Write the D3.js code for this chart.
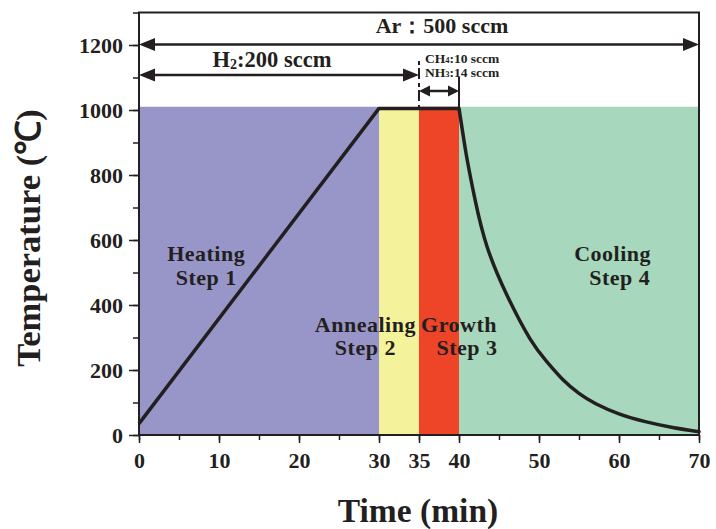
<!DOCTYPE html>
<html>
<head>
<meta charset="utf-8">
<script src="https://cdn.jsdelivr.net/npm/d3@7"></script>
<style>
  body { margin: 0; background: #fff; }
  text { font-family: "Liberation Serif", "Times New Roman", serif; font-weight: bold; fill: #231f20; }
</style>
</head>
<body>
<div id="chart"></div>
<script>
// steps of the process (minutes)
const stepNames = ["Heating", "Annealing", "Growth", "Cooling"];
const stepNumbers = ["Step 1", "Step 2", "Step 3", "Step 4"];
const stepStart = [0, 30, 35, 40];
const stepEnd = [30, 35, 40, 70];
const shadeTop = 1010;

// temperature profile
const heatTime = [0, 30, 40];
const heatTemp = [35, 1005, 1005];
const coolTime = [40, 40.5, 41, 42, 43.5, 46, 48.9, 51, 53, 55, 57.1, 60, 63.3, 66.7, 70];
const coolTemp = [1005, 925, 850, 725, 580, 430, 295, 225, 170, 128, 96, 65, 41, 23, 10];

// gas flows
const gasStart = [0, 0, 35];
const gasEnd = [70, 35, 40];

// ticks
const xTicks = d3.range(0, 71, 5);
const xLabels = [0, 10, 20, 30, 35, 40, 50, 60, 70];
const yTicks = d3.range(0, 1301, 100);
const yLabels = d3.range(0, 1201, 200);

const width = 716, height = 529;
const margin = { top: 12.5, right: 17, bottom: 94, left: 139 };
const ink = "#231f20";
const stepColors = ["#9896c8", "#f5f29c", "#ee4428", "#a7d8bd"];

const svg = d3.select("#chart").append("svg")
    .attr("width", width)
    .attr("height", height);

const x = d3.scaleLinear().domain([0, 70]).range([margin.left, width - margin.right]);
const y = d3.scaleLinear().domain([0, 1300]).range([height - margin.bottom, margin.top]);

// shaded steps
svg.append("g").selectAll("rect")
    .data(stepNames)
    .join("rect")
    .attr("x", (d, i) => x(stepStart[i]))
    .attr("y", y(shadeTop))
    .attr("width", (d, i) => x(stepEnd[i]) - x(stepStart[i]))
    .attr("height", y(0) - y(shadeTop))
    .attr("fill", (d, i) => stepColors[i]);

// temperature curve
const line = d3.line().x(d => x(d[0])).y(d => y(d[1]));
svg.append("path")
    .attr("d", line(heatTime.map((t, i) => [t, heatTemp[i]])))
    .attr("fill", "none").attr("stroke", ink).attr("stroke-width", 3.5)
    .attr("stroke-linejoin", "round");
svg.append("path")
    .attr("d", line.curve(d3.curveNatural)(coolTime.map((t, i) => [t, coolTemp[i]])))
    .attr("fill", "none").attr("stroke", ink).attr("stroke-width", 3.5)
    .attr("stroke-linecap", "round");

// axes
const yMinor = d3.axisLeft(y).tickValues(yTicks).tickSize(6).tickFormat("");
const yMajor = d3.axisLeft(y).tickValues(yLabels).tickSize(10).tickPadding(6).tickFormat(d3.format("d"));
const xMinor = d3.axisBottom(x).tickValues(xTicks).tickSize(5).tickFormat("");
const xMajor = d3.axisBottom(x).tickValues(xLabels).tickSize(8).tickPadding(9);

[yMinor, yMajor].forEach(a => {
    const g = svg.append("g").attr("transform", `translate(${margin.left},0)`).call(a);
    g.select(".domain").remove();
    g.selectAll("line").attr("stroke", ink).attr("stroke-width", 1.5);
    g.selectAll("text").attr("font-size", 22).attr("fill", ink);
});
[xMinor, xMajor].forEach(a => {
    const g = svg.append("g").attr("transform", `translate(0,${y(0)})`).call(a);
    g.select(".domain").remove();
    g.selectAll("line").attr("stroke", ink).attr("stroke-width", 1.5);
    g.selectAll("text").attr("font-size", 22).attr("fill", ink);
});

// frame
svg.append("rect")
    .attr("x", x(0)).attr("y", y(1300))
    .attr("width", x(70) - x(0)).attr("height", y(0) - y(1300))
    .attr("fill", "none").attr("stroke", ink).attr("stroke-width", 2);

// axis titles
svg.append("text")
    .attr("x", x(35) - 1).attr("y", 522)
    .attr("text-anchor", "middle").attr("font-size", 33.5)
    .text("Time (min)");
svg.append("text")
    .attr("transform", `translate(40,${238}) rotate(-90)`)
    .attr("text-anchor", "middle").attr("font-size", 34.5)
    .text("Temperature (℃)");

// step labels: [time, temperature of first baseline]
const labelPos = [[8.4, 535], [28.3, 318], [40.0, 318], [59.2, 535]];
const stepLabel = svg.append("g").attr("font-size", 22).attr("letter-spacing", 0.5);
stepNames.forEach((name, i) => {
    const [t, temp] = labelPos[i];
    const shift = i === 2 ? 1 : (i === 3 ? 0.9 : 0);
    stepLabel.append("text")
        .attr("x", x(t)).attr("y", y(temp))
        .attr("text-anchor", "middle").text(name);
    stepLabel.append("text")
        .attr("x", x(t + shift)).attr("y", y(temp) + 23.5)
        .attr("text-anchor", "middle").text(stepNumbers[i]);
});

// double-headed arrows for the gas flows
function arrowHead(xTip, yy, dir, len, half) {
    svg.append("path")
        .attr("d", `M${xTip},${yy}L${xTip - dir * len},${yy - half}L${xTip - dir * len},${yy + half}Z`)
        .attr("fill", ink);
}
function flowArrow(t0, t1, yy, len, half) {
    svg.append("line")
        .attr("x1", x(t0) + len / 2).attr("x2", x(t1) - len / 2)
        .attr("y1", yy).attr("y2", yy)
        .attr("stroke", ink).attr("stroke-width", 2.5);
    arrowHead(x(t0), yy, -1, len, half);
    arrowHead(x(t1), yy, 1, len, half);
}
flowArrow(gasStart[0], gasEnd[0], 44.5, 16, 6.5);
flowArrow(gasStart[1], gasEnd[1], 75, 16, 6.5);
flowArrow(gasStart[2], gasEnd[2], 91, 11, 5.5);

// markers bounding the CH4/NH3 window
svg.append("line")
    .attr("x1", x(gasStart[2])).attr("x2", x(gasStart[2]))
    .attr("y1", 61).attr("y2", 107)
    .attr("stroke", ink).attr("stroke-width", 2)
    .attr("stroke-dasharray", "4,3,11,4");
svg.append("line")
    .attr("x1", x(gasEnd[2])).attr("x2", x(gasEnd[2]))
    .attr("y1", 77).attr("y2", 107)
    .attr("stroke", ink).attr("stroke-width", 2);

// gas labels
svg.append("text")
    .attr("x", 442).attr("y", 33)
    .attr("text-anchor", "middle").attr("font-size", 22)
    .text("Ar：500 sccm");
const h2 = svg.append("text")
    .attr("x", 272).attr("y", 66.5)
    .attr("text-anchor", "middle").attr("font-size", 22.5);
h2.append("tspan").text("H");
h2.append("tspan").attr("font-size", 14).attr("dy", 2).text("2");
h2.append("tspan").attr("dy", -2).text(":200 sccm");

[["CH", "4", ":10 sccm", 63], ["NH", "3", ":14 sccm", 76.5]].forEach(([a, sub, b, yy]) => {
    const t = svg.append("text")
        .attr("x", 425).attr("y", yy).attr("font-size", 13.5);
    t.append("tspan").text(a);
    t.append("tspan").attr("font-size", 8.5).text(sub);
    t.append("tspan").text(b);
});
</script>
</body>
</html>
